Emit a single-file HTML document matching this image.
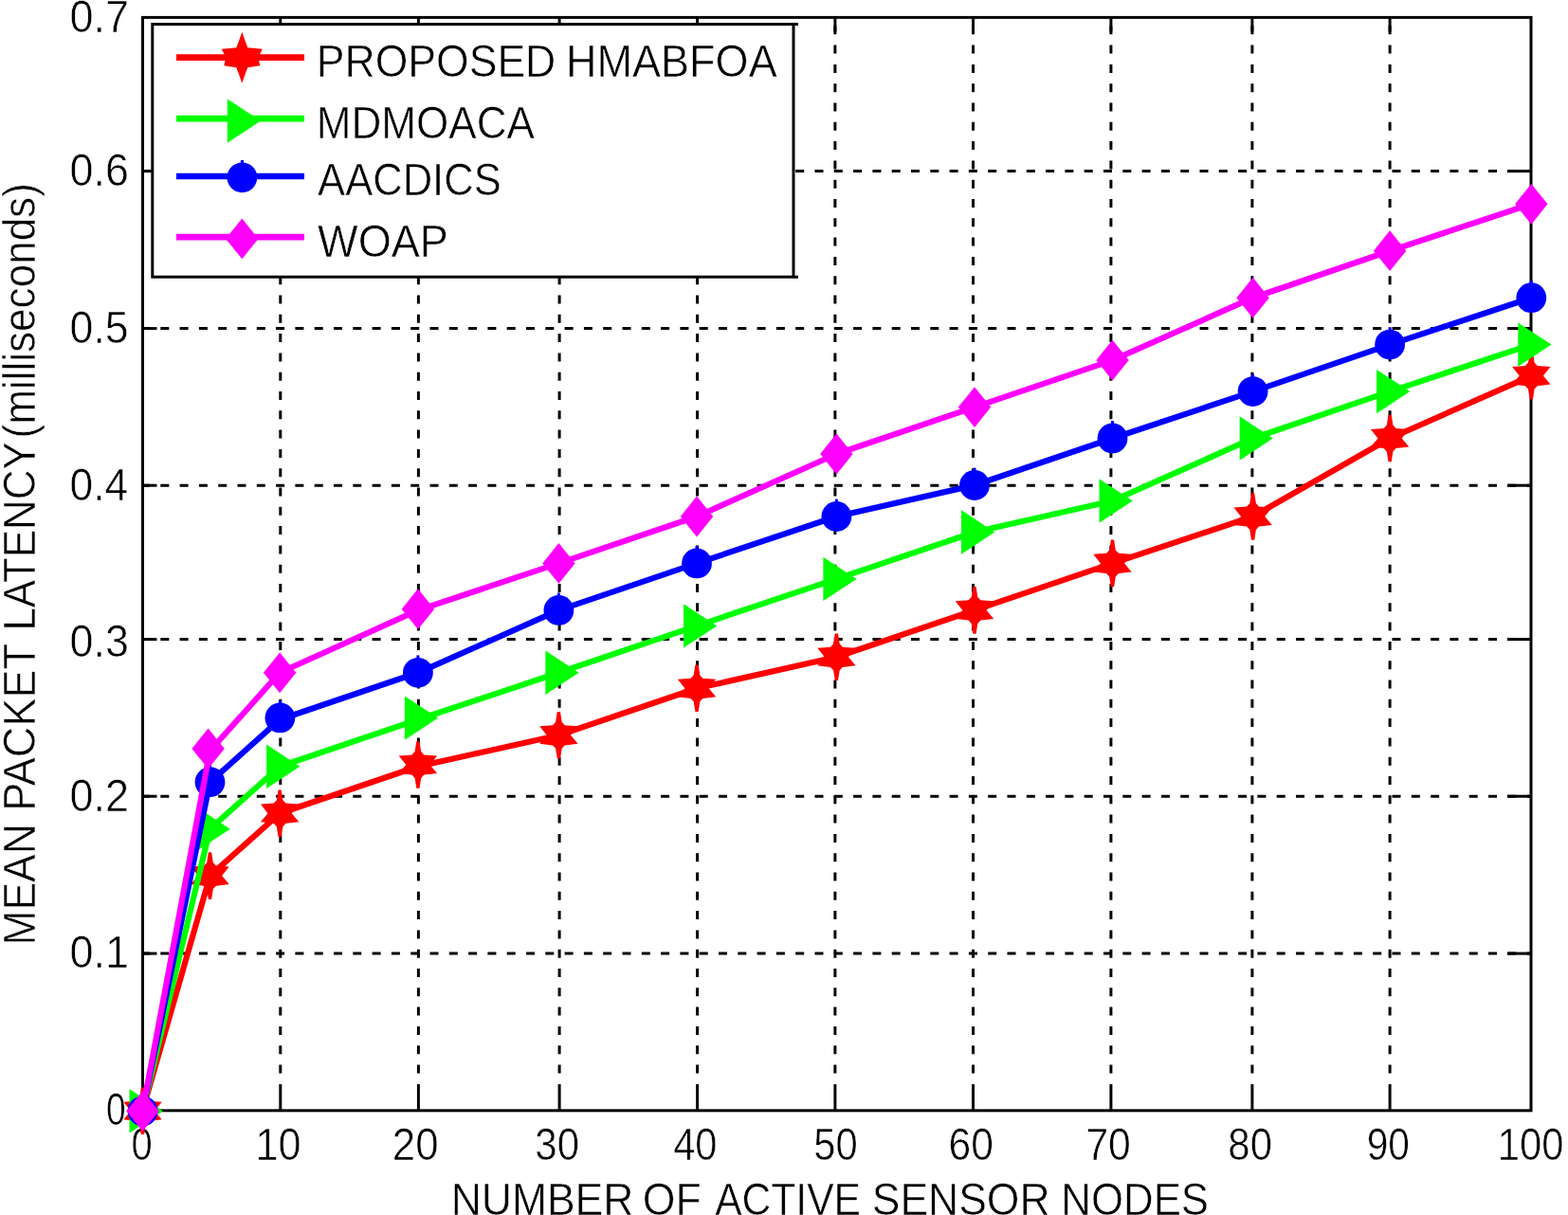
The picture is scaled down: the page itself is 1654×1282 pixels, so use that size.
<!DOCTYPE html>
<html lang="en"><head><meta charset="utf-8"><title>Mean packet latency vs number of active sensor nodes</title>
<style>html,body{margin:0;padding:0;background:#fff;overflow:hidden;width:1654px;height:1282px}svg{display:block}text{font-family:"Liberation Sans",Arial,Helvetica,sans-serif;fill:#000;stroke:#fff;stroke-width:0.60px;paint-order:fill stroke;stroke-linejoin:round}</style></head><body>
<svg width="1654" height="1282" viewBox="0 0 1654 1282">
<rect width="1654" height="1282" fill="#fff"/>
<text transform="translate(138.56,1224.30) scale(0.8159,1)" font-size="49">0</text>
<text transform="translate(269.49,1224.30) scale(0.8822,1)" font-size="49">10</text>
<text transform="translate(413.84,1224.30) scale(0.8947,1)" font-size="49">20</text>
<text transform="translate(564.36,1224.30) scale(0.8580,1)" font-size="49">30</text>
<text transform="translate(710.20,1224.30) scale(0.8496,1)" font-size="49">40</text>
<text transform="translate(858.37,1224.30) scale(0.8520,1)" font-size="49">50</text>
<text transform="translate(1000.61,1224.30) scale(0.8705,1)" font-size="49">60</text>
<text transform="translate(1145.41,1224.30) scale(0.8705,1)" font-size="49">70</text>
<text transform="translate(1295.36,1224.30) scale(0.8562,1)" font-size="49">80</text>
<text transform="translate(1441.72,1224.30) scale(0.8302,1)" font-size="49">90</text>
<text transform="translate(1579.81,1224.30) scale(0.8532,1)" font-size="49">100</text>
<text transform="translate(112.09,1186.60) scale(0.7585,1)" font-size="49">0</text>
<text transform="translate(73.52,1021.00) scale(0.9192,1)" font-size="49">0.1</text>
<text transform="translate(73.52,856.00) scale(0.9192,1)" font-size="49">0.2</text>
<text transform="translate(73.53,693.00) scale(0.9156,1)" font-size="49">0.3</text>
<text transform="translate(73.55,527.50) scale(0.9051,1)" font-size="49">0.4</text>
<text transform="translate(73.54,362.00) scale(0.9121,1)" font-size="49">0.5</text>
<text transform="translate(73.53,195.80) scale(0.9156,1)" font-size="49">0.6</text>
<text transform="translate(73.52,33.50) scale(0.9192,1)" font-size="49">0.7</text>
<text y="1281.70" font-size="49"><tspan x="475.67" textLength="192.76" lengthAdjust="spacingAndGlyphs">NUMBER</tspan> <tspan x="677.72" textLength="61.98" lengthAdjust="spacingAndGlyphs">OF</tspan> <tspan x="754.13" textLength="153.92" lengthAdjust="spacingAndGlyphs">ACTIVE</tspan> <tspan x="919.73" textLength="187.89" lengthAdjust="spacingAndGlyphs">SENSOR</tspan> <tspan x="1119.33" textLength="155.76" lengthAdjust="spacingAndGlyphs">NODES</tspan></text>
<text transform="translate(36.90,0) rotate(-90)" font-size="49"><tspan x="-997.52" textLength="128.21" lengthAdjust="spacingAndGlyphs">MEAN</tspan> <tspan x="-855.86" textLength="176.01" lengthAdjust="spacingAndGlyphs">PACKET</tspan> <tspan x="-665.58" textLength="199.37" lengthAdjust="spacingAndGlyphs">LATENCY</tspan><tspan x="-462.41" textLength="269.23" lengthAdjust="spacingAndGlyphs">(milliseconds)</tspan></text>
<g stroke="#000" stroke-width="3.0" fill="none" stroke-dasharray="9.0 11.3">
<line x1="295.8" y1="1132.5" x2="295.8" y2="18.4"/>
<line x1="441.4" y1="1132.5" x2="441.4" y2="18.4"/>
<line x1="590.1" y1="1132.5" x2="590.1" y2="18.4"/>
<line x1="735.6" y1="1132.5" x2="735.6" y2="18.4"/>
<line x1="880.9" y1="1132.5" x2="880.9" y2="18.4"/>
<line x1="1026.5" y1="1132.5" x2="1026.5" y2="18.4"/>
<line x1="1171.9" y1="1132.5" x2="1171.9" y2="18.4"/>
<line x1="1320.9" y1="1132.5" x2="1320.9" y2="18.4"/>
<line x1="1466.1" y1="1132.5" x2="1466.1" y2="18.4"/>
<line x1="149.0" y1="1006.1" x2="1615.0" y2="1006.1"/>
<line x1="149.0" y1="840.2" x2="1615.0" y2="840.2"/>
<line x1="149.0" y1="674.6" x2="1615.0" y2="674.6"/>
<line x1="149.0" y1="512.2" x2="1615.0" y2="512.2"/>
<line x1="149.0" y1="346.6" x2="1615.0" y2="346.6"/>
<line x1="149.0" y1="180.6" x2="1615.0" y2="180.6"/>
</g>
<g stroke="#000" stroke-width="3.0" fill="none">
<line x1="295.8" y1="1171.8" x2="295.8" y2="1144.0"/>
<line x1="295.8" y1="18.4" x2="295.8" y2="33.4"/>
<line x1="441.4" y1="1171.8" x2="441.4" y2="1144.0"/>
<line x1="441.4" y1="18.4" x2="441.4" y2="33.4"/>
<line x1="590.1" y1="1171.8" x2="590.1" y2="1144.0"/>
<line x1="590.1" y1="18.4" x2="590.1" y2="33.4"/>
<line x1="735.6" y1="1171.8" x2="735.6" y2="1144.0"/>
<line x1="735.6" y1="18.4" x2="735.6" y2="33.4"/>
<line x1="880.9" y1="1171.8" x2="880.9" y2="1144.0"/>
<line x1="880.9" y1="18.4" x2="880.9" y2="33.4"/>
<line x1="1026.5" y1="1171.8" x2="1026.5" y2="1144.0"/>
<line x1="1026.5" y1="18.4" x2="1026.5" y2="33.4"/>
<line x1="1171.9" y1="1171.8" x2="1171.9" y2="1144.0"/>
<line x1="1171.9" y1="18.4" x2="1171.9" y2="33.4"/>
<line x1="1320.9" y1="1171.8" x2="1320.9" y2="1144.0"/>
<line x1="1320.9" y1="18.4" x2="1320.9" y2="33.4"/>
<line x1="1466.1" y1="1171.8" x2="1466.1" y2="1144.0"/>
<line x1="1466.1" y1="18.4" x2="1466.1" y2="33.4"/>
<line x1="150.5" y1="1006.1" x2="165.5" y2="1006.1"/>
<line x1="1615.0" y1="1006.1" x2="1590.0" y2="1006.1"/>
<line x1="150.5" y1="840.2" x2="165.5" y2="840.2"/>
<line x1="1615.0" y1="840.2" x2="1590.0" y2="840.2"/>
<line x1="150.5" y1="674.6" x2="165.5" y2="674.6"/>
<line x1="1615.0" y1="674.6" x2="1590.0" y2="674.6"/>
<line x1="150.5" y1="512.2" x2="165.5" y2="512.2"/>
<line x1="1615.0" y1="512.2" x2="1590.0" y2="512.2"/>
<line x1="150.5" y1="346.6" x2="165.5" y2="346.6"/>
<line x1="1615.0" y1="346.6" x2="1590.0" y2="346.6"/>
<line x1="150.5" y1="180.6" x2="165.5" y2="180.6"/>
<line x1="1615.0" y1="180.6" x2="1590.0" y2="180.6"/>
<rect x="150.5" y="18.4" width="1464.5" height="1153.4"/>
</g>
<polyline fill="none" stroke="#ff0000" stroke-width="6.2" stroke-linejoin="round" points="150.5,1171.4 221.5,924.1 295.1,858.2 440.9,808.7 589.4,775.8 735.0,726.3 882.4,693.3 1028.0,643.9 1173.5,594.4 1321.6,545.0 1466.1,462.5 1615.3,396.6"/>
<polygon fill="#ff0000" points="150.5,1147.5 152.1,1147.5 153.8,1158.3 156.9,1161.7 170.7,1162.7 163.1,1172.3 170.7,1181.3 156.9,1182.9 153.8,1186.3 152.1,1197.1 148.9,1197.1 147.2,1186.3 144.1,1182.9 130.3,1181.3 137.9,1172.3 130.3,1162.7 144.1,1161.7 147.2,1158.3 148.9,1147.5"/>
<polygon fill="#ff0000" points="221.5,899.3 223.1,899.3 224.8,910.1 227.9,913.5 241.7,914.5 234.1,924.1 241.7,933.1 227.9,934.7 224.8,938.1 223.1,948.9 219.9,948.9 218.2,938.1 215.1,934.7 201.3,933.1 208.9,924.1 201.3,914.5 215.1,913.5 218.2,910.1 219.9,899.3"/>
<polygon fill="#ff0000" points="295.1,833.4 296.7,833.4 298.4,844.2 301.5,847.6 315.3,848.6 307.7,858.2 315.3,867.2 301.5,868.8 298.4,872.2 296.7,883.0 293.5,883.0 291.8,872.2 288.7,868.8 274.9,867.2 282.5,858.2 274.9,848.6 288.7,847.6 291.8,844.2 293.5,833.4"/>
<polygon fill="#ff0000" points="440.9,782.2 442.5,782.2 444.2,793.0 447.3,796.4 461.1,797.4 453.5,807.0 461.1,816.0 447.3,817.6 444.2,821.0 442.5,831.8 439.3,831.8 437.6,821.0 434.5,817.6 420.7,816.0 428.3,807.0 420.7,797.4 434.5,796.4 437.6,793.0 439.3,782.2"/>
<polygon fill="#ff0000" points="589.4,751.0 591.0,751.0 592.7,761.8 595.8,765.2 609.6,766.2 602.0,775.8 609.6,784.8 595.8,786.4 592.7,789.8 591.0,800.6 587.8,800.6 586.1,789.8 583.0,786.4 569.2,784.8 576.8,775.8 569.2,766.2 583.0,765.2 586.1,761.8 587.8,751.0"/>
<polygon fill="#ff0000" points="735.0,701.5 736.6,701.5 738.3,712.3 741.4,715.7 755.2,716.7 747.6,726.3 755.2,735.3 741.4,736.9 738.3,740.3 736.6,751.1 733.4,751.1 731.7,740.3 728.6,736.9 714.8,735.3 722.4,726.3 714.8,716.7 728.6,715.7 731.7,712.3 733.4,701.5"/>
<polygon fill="#ff0000" points="882.4,668.5 884.0,668.5 885.7,679.3 888.8,682.7 902.6,683.7 895.0,693.3 902.6,702.3 888.8,703.9 885.7,707.3 884.0,718.1 880.8,718.1 879.1,707.3 876.0,703.9 862.2,702.3 869.8,693.3 862.2,683.7 876.0,682.7 879.1,679.3 880.8,668.5"/>
<polygon fill="#ff0000" points="1028.0,619.1 1029.6,619.1 1031.3,629.9 1034.4,633.3 1048.2,634.3 1040.6,643.9 1048.2,652.9 1034.4,654.5 1031.3,657.9 1029.6,668.7 1026.4,668.7 1024.7,657.9 1021.6,654.5 1007.8,652.9 1015.4,643.9 1007.8,634.3 1021.6,633.3 1024.7,629.9 1026.4,619.1"/>
<polygon fill="#ff0000" points="1173.5,569.6 1175.1,569.6 1176.8,580.4 1179.9,583.8 1193.7,584.8 1186.1,594.4 1193.7,603.4 1179.9,605.0 1176.8,608.4 1175.1,619.2 1171.9,619.2 1170.2,608.4 1167.1,605.0 1153.3,603.4 1160.9,594.4 1153.3,584.8 1167.1,583.8 1170.2,580.4 1171.9,569.6"/>
<polygon fill="#ff0000" points="1321.6,520.2 1323.2,520.2 1324.9,531.0 1328.0,534.4 1341.8,535.4 1334.2,545.0 1341.8,554.0 1328.0,555.6 1324.9,559.0 1323.2,569.8 1320.0,569.8 1318.3,559.0 1315.2,555.6 1301.4,554.0 1309.0,545.0 1301.4,535.4 1315.2,534.4 1318.3,531.0 1320.0,520.2"/>
<polygon fill="#ff0000" points="1466.1,437.7 1467.7,437.7 1469.4,448.5 1472.5,451.9 1486.3,452.9 1478.7,462.5 1486.3,471.5 1472.5,473.1 1469.4,476.5 1467.7,487.3 1464.5,487.3 1462.8,476.5 1459.7,473.1 1445.9,471.5 1453.5,462.5 1445.9,452.9 1459.7,451.9 1462.8,448.5 1464.5,437.7"/>
<polygon fill="#ff0000" points="1615.3,371.8 1616.9,371.8 1618.6,382.6 1621.7,386.0 1635.5,387.0 1627.9,396.6 1635.5,405.6 1621.7,407.2 1618.6,410.6 1616.9,421.4 1613.7,421.4 1612.0,410.6 1608.9,407.2 1595.1,405.6 1602.7,396.6 1595.1,387.0 1608.9,386.0 1612.0,382.6 1613.7,371.8"/>
<polyline fill="none" stroke="#00ff00" stroke-width="6.2" stroke-linejoin="round" points="150.5,1171.4 221.5,874.7 295.1,808.7 440.9,759.3 589.4,709.8 735.0,660.4 882.4,610.9 1028.0,561.5 1173.5,528.5 1321.6,462.5 1466.1,413.1 1615.3,363.6"/>
<polygon fill="#00ff00" points="136.5,1149.1 171.7,1172.3 136.5,1195.5"/>
<polygon fill="#00ff00" points="207.5,851.5 242.7,874.7 207.5,897.9"/>
<polygon fill="#00ff00" points="281.1,785.5 316.3,808.7 281.1,831.9"/>
<polygon fill="#00ff00" points="426.9,734.4 462.1,757.6 426.9,780.8"/>
<polygon fill="#00ff00" points="575.4,686.6 610.6,709.8 575.4,733.0"/>
<polygon fill="#00ff00" points="721.0,637.2 756.2,660.4 721.0,683.6"/>
<polygon fill="#00ff00" points="868.4,587.7 903.6,610.9 868.4,634.1"/>
<polygon fill="#00ff00" points="1014.0,538.3 1049.2,561.5 1014.0,584.7"/>
<polygon fill="#00ff00" points="1159.5,505.3 1194.7,528.5 1159.5,551.7"/>
<polygon fill="#00ff00" points="1307.6,439.3 1342.8,462.5 1307.6,485.7"/>
<polygon fill="#00ff00" points="1452.1,389.9 1487.3,413.1 1452.1,436.3"/>
<polygon fill="#00ff00" points="1601.3,340.4 1636.5,363.6 1601.3,386.8"/>
<polyline fill="none" stroke="#0000ff" stroke-width="6.2" stroke-linejoin="round" points="150.5,1171.4 221.5,825.2 295.1,759.3 440.9,709.8 589.4,643.9 735.0,594.4 882.4,545.0 1028.0,512.0 1173.5,462.5 1321.6,413.1 1466.1,363.6 1615.3,314.2"/>
<circle fill="#0000ff" cx="150.5" cy="1172.3" r="15.9"/><rect fill="#0000ff" x="149.0" y="1153.9" width="3" height="4"/>
<circle fill="#0000ff" cx="221.5" cy="825.2" r="15.9"/><rect fill="#0000ff" x="220.0" y="806.8" width="3" height="4"/>
<circle fill="#0000ff" cx="295.4" cy="757.4" r="15.9"/><rect fill="#0000ff" x="293.9" y="739.0" width="3" height="4"/>
<circle fill="#0000ff" cx="440.9" cy="709.8" r="15.9"/><rect fill="#0000ff" x="439.4" y="691.4" width="3" height="4"/>
<circle fill="#0000ff" cx="589.4" cy="643.9" r="15.9"/><rect fill="#0000ff" x="587.9" y="625.5" width="3" height="4"/>
<circle fill="#0000ff" cx="735.0" cy="594.4" r="15.9"/><rect fill="#0000ff" x="733.5" y="576.0" width="3" height="4"/>
<circle fill="#0000ff" cx="882.4" cy="545.0" r="15.9"/><rect fill="#0000ff" x="880.9" y="526.6" width="3" height="4"/>
<circle fill="#0000ff" cx="1028.0" cy="512.0" r="15.9"/><rect fill="#0000ff" x="1026.5" y="493.6" width="3" height="4"/>
<circle fill="#0000ff" cx="1173.5" cy="462.5" r="15.9"/><rect fill="#0000ff" x="1172.0" y="444.1" width="3" height="4"/>
<circle fill="#0000ff" cx="1321.6" cy="413.1" r="15.9"/><rect fill="#0000ff" x="1320.1" y="394.7" width="3" height="4"/>
<circle fill="#0000ff" cx="1466.1" cy="363.6" r="15.9"/><rect fill="#0000ff" x="1464.6" y="345.2" width="3" height="4"/>
<circle fill="#0000ff" cx="1615.3" cy="314.2" r="15.9"/><rect fill="#0000ff" x="1613.8" y="295.8" width="3" height="4"/>
<polyline fill="none" stroke="#ff00ff" stroke-width="6.2" stroke-linejoin="round" points="150.5,1171.4 221.5,792.2 295.1,709.8 440.9,643.9 589.4,594.4 735.0,545.0 882.4,479.0 1028.0,429.6 1173.5,380.1 1321.6,314.2 1466.1,264.7 1615.3,215.3"/>
<polygon fill="#ff00ff" points="150.5,1150.9 167.7,1172.3 150.5,1193.7 133.3,1172.3"/>
<polygon fill="#ff00ff" points="219.6,768.5 236.8,789.9 219.6,811.3 202.4,789.9"/>
<polygon fill="#ff00ff" points="295.1,688.4 312.3,709.8 295.1,731.2 277.9,709.8"/>
<polygon fill="#ff00ff" points="440.9,621.3 458.1,642.7 440.9,664.1 423.7,642.7"/>
<polygon fill="#ff00ff" points="589.4,573.0 606.6,594.4 589.4,615.8 572.2,594.4"/>
<polygon fill="#ff00ff" points="735.0,523.6 752.2,545.0 735.0,566.4 717.8,545.0"/>
<polygon fill="#ff00ff" points="882.4,457.6 899.6,479.0 882.4,500.4 865.2,479.0"/>
<polygon fill="#ff00ff" points="1028.0,408.2 1045.2,429.6 1028.0,451.0 1010.8,429.6"/>
<polygon fill="#ff00ff" points="1173.5,358.7 1190.7,380.1 1173.5,401.5 1156.3,380.1"/>
<polygon fill="#ff00ff" points="1321.6,292.8 1338.8,314.2 1321.6,335.6 1304.4,314.2"/>
<polygon fill="#ff00ff" points="1466.1,243.3 1483.3,264.7 1466.1,286.1 1448.9,264.7"/>
<polygon fill="#ff00ff" points="1615.3,193.9 1632.5,215.3 1615.3,236.7 1598.1,215.3"/>
<rect x="160.8" y="25.6" width="676.2" height="266.6" fill="#fff" stroke="#000" stroke-width="3.0"/>
<path d="M837.0 25.6 h5 M837.0 292.2 h5" stroke="#000" stroke-width="3.0" fill="none"/>
<line x1="186" y1="60.7" x2="321" y2="60.7" stroke="#ff0000" stroke-width="6.7"/>
<polygon fill="#ff0000" points="255.3,33.7 258.8,43.7 261.3,50.2 276.8,51.7 272.3,60.7 274.3,69.2 261.3,71.2 258.8,77.7 255.3,87.7 251.8,77.7 249.3,71.2 236.3,69.2 238.3,60.7 233.8,51.7 249.3,50.2 251.8,43.7"/>
<text y="80.70" font-size="49"><tspan x="333.76" textLength="252.55" lengthAdjust="spacingAndGlyphs">PROPOSED</tspan> <tspan x="596.92" textLength="222.77" lengthAdjust="spacingAndGlyphs">HMABFOA</tspan></text>
<line x1="186" y1="125.2" x2="321" y2="125.2" stroke="#00ff00" stroke-width="6.7"/>
<polygon fill="#00ff00" points="239.8,104.4 275.0,127.6 239.8,150.8"/>
<text y="145.80" font-size="49"><tspan x="333.80" textLength="230.16" lengthAdjust="spacingAndGlyphs">MDMOACA</tspan></text>
<line x1="186" y1="186.0" x2="321" y2="186.0" stroke="#0000ff" stroke-width="6.7"/>
<circle fill="#0000ff" cx="255.4" cy="187.3" r="15.9"/><rect fill="#0000ff" x="253.9" y="168.9" width="3" height="4"/>
<text y="206.30" font-size="49"><tspan x="335.12" textLength="193.62" lengthAdjust="spacingAndGlyphs">AACDICS</tspan></text>
<line x1="186" y1="250.1" x2="321" y2="250.1" stroke="#ff00ff" stroke-width="6.7"/>
<polygon fill="#ff00ff" points="255.3,230.5 272.5,251.9 255.3,273.3 238.1,251.9"/>
<text y="270.60" font-size="49"><tspan x="335.10" textLength="137.87" lengthAdjust="spacingAndGlyphs">WOAP</tspan></text>
</svg></body></html>
